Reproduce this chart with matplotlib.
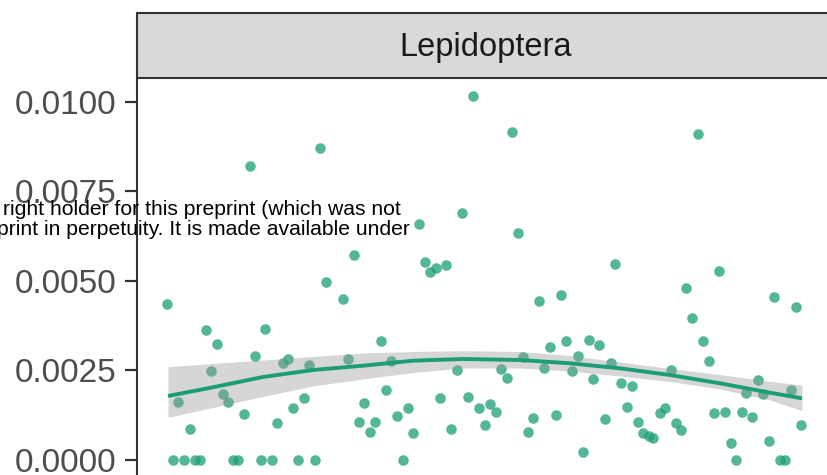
import matplotlib
matplotlib.use("Agg")
import matplotlib.pyplot as plt
from matplotlib.patches import Rectangle

plt.rcParams['font.family'] = ['Liberation Sans', 'DejaVu Sans']

panel_title = "Lepidoptera"
watermark_1 = "right holder for this preprint (which was not"
watermark_2 = "print in perpetuity. It is made available under"

x_pts = [0.0, 6.1, 7.8, 15.5, 13.9, 7.0, 1.8, 8.8, 9.6, 3.6, 12.1, 17.3, 19.9, 21.6,
         18.2, 19.1, 22.4, 25.0, 27.7, 28.5, 33.7, 35.3, 34.5, 31.1, 30.2, 31.9, 32.8,
         36.2, 38.0, 38.8, 45.7, 43.0, 47.4, 49.1, 44.8, 48.2, 24.1, 13.0, 46.5, 39.7,
         29.4, 40.6, 41.4, 42.3, 44.0, 54.3, 83.6, 55.2, 70.6, 87.0, 58.6, 62.0, 81.8,
         95.6, 99.1, 82.7, 84.4, 85.3, 60.3, 62.9, 66.4, 68.1, 64.7, 56.0, 69.9, 79.3,
         52.6, 53.5, 59.4, 63.8, 67.1, 71.5, 73.2, 93.0, 98.2, 91.2, 93.9, 50.9, 51.8,
         50.1, 57.7, 61.3, 56.9, 65.5, 68.9, 72.4, 74.2, 74.9, 75.9, 76.6, 77.6, 78.4,
         80.1, 81.0, 86.1, 87.8, 90.5, 92.2, 88.8, 94.8, 99.9,
         0.9, 2.7, 4.4, 5.2, 10.4, 11.2, 14.8, 16.5, 20.7, 23.3, 37.1, 89.6, 96.5, 97.3]
y_pts = [0.00435, 0.00363, 0.00323, 0.00367, 0.00290, 0.00249, 0.00161, 0.00185, 0.00163,
         0.00087, 0.00129, 0.00103, 0.00146, 0.00172, 0.00270, 0.00282, 0.00265, 0.00497,
         0.00449, 0.00283, 0.00332, 0.00277, 0.00196, 0.00160, 0.00105, 0.00079, 0.00107,
         0.00123, 0.00146, 0.00075, 0.00251, 0.00174, 0.00176, 0.00144, 0.00087, 0.01018,
         0.00871, 0.00821, 0.00691, 0.00660, 0.00573, 0.00553, 0.00525, 0.00537, 0.00544,
         0.00917, 0.00911, 0.00635, 0.00547, 0.00529, 0.00444, 0.00460, 0.00480, 0.00454,
         0.00428, 0.00396, 0.00333, 0.00277, 0.00316, 0.00333, 0.00335, 0.00321, 0.00290,
         0.00289, 0.00270, 0.00251, 0.00255, 0.00228, 0.00258, 0.00249, 0.00226, 0.00216,
         0.00208, 0.00223, 0.00195, 0.00187, 0.00184, 0.00156, 0.00133, 0.00099, 0.00117,
         0.00126, 0.00077, 0.00023, 0.00114, 0.00147, 0.00106, 0.00075, 0.00068, 0.00061,
         0.00132, 0.00146, 0.00103, 0.00085, 0.00130, 0.00135, 0.00133, 0.00119, 0.00048,
         0.00052, 0.00098,
         0.0, 0.0, 0.0, 0.0, 0.0, 0.0, 0.0, 0.0, 0.0, 0.0, 0.0, 0.0, 0.0, 0.0]

fit_x = [0.16, 7.24, 15.12, 22.99, 30.87, 38.74, 46.61, 55.59, 63.46, 71.34, 79.21, 87.09, 94.96, 100.0]
fit_y = [0.001788, 0.002031, 0.002318, 0.002514, 0.002634, 0.002774, 0.002821, 0.002793,
         0.002701, 0.002561, 0.002374, 0.002142, 0.001880, 0.001723]
fit_hi = [0.002606, 0.002696, 0.002793, 0.002891, 0.002989, 0.003031, 0.003053, 0.003031,
          0.002919, 0.002737, 0.002556, 0.002388, 0.002193, 0.002095]
fit_lo = [0.001193, 0.001466, 0.001774, 0.002067, 0.002263, 0.002444, 0.002570, 0.002570,
          0.002486, 0.002346, 0.002193, 0.001983, 0.001676, 0.001377]

y_ticks = [0.0, 0.0025, 0.005, 0.0075, 0.01]

W, H = 828, 475
fig = plt.figure(figsize=(W / 100, H / 100), dpi=100)

ax_l, ax_r, ax_t, ax_b = 137, 834, 78, 478
ax = fig.add_axes([ax_l / W, (H - ax_b) / H, (ax_r - ax_l) / W, (ax_b - ax_t) / H])

green = "#1B9E77"
ax.scatter(x_pts, y_pts, s=58, color=green, alpha=0.75, linewidths=0, zorder=2)
ax.fill_between(fit_x, fit_lo, fit_hi, color="#999999", alpha=0.4, linewidth=0, zorder=3)
ax.plot(fit_x, fit_y, color=green, lw=2.8, zorder=4, solid_capstyle='butt',
        solid_joinstyle='round')

ax.set_xlim(-4.72, 105.04)
ax.set_ylim(-0.000503, 0.010670)
ax.set_yticks(y_ticks)
ax.set_yticklabels([f"{v:.4f}" for v in y_ticks])
ax.set_xticks([])
for s in ['top', 'right', 'bottom']:
    ax.spines[s].set_visible(False)
ax.spines['left'].set_color("#333333")
ax.spines['left'].set_linewidth(1.5)
ax.tick_params(axis='y', length=8.5, width=1.6, color="#333333", labelsize=24,
               labelcolor="#4D4D4D", pad=6)

# strip
st_t, st_b = 13, 78
strip = Rectangle((ax_l / W, (H - st_b) / H), (ax_r + 10 - ax_l) / W, (st_b - st_t) / H,
                  transform=fig.transFigure, facecolor="#D9D9D9", edgecolor="#333333",
                  linewidth=1.5, zorder=1)
fig.patches.append(strip)
fig.text((ax_l + ax_r) / 2 / W, 1 - 56 / H, panel_title, ha='center',
         va='baseline', fontsize=23.5, color="#1A1A1A")

fig.text(3 / W, 1 - 215 / H, watermark_1, ha='left', va='baseline', fontsize=15.2, color='black')
fig.text(-3 / W, 1 - 235 / H, watermark_2, ha='left', va='baseline', fontsize=15.2, color='black')

fig.savefig("out.png", dpi=100)
